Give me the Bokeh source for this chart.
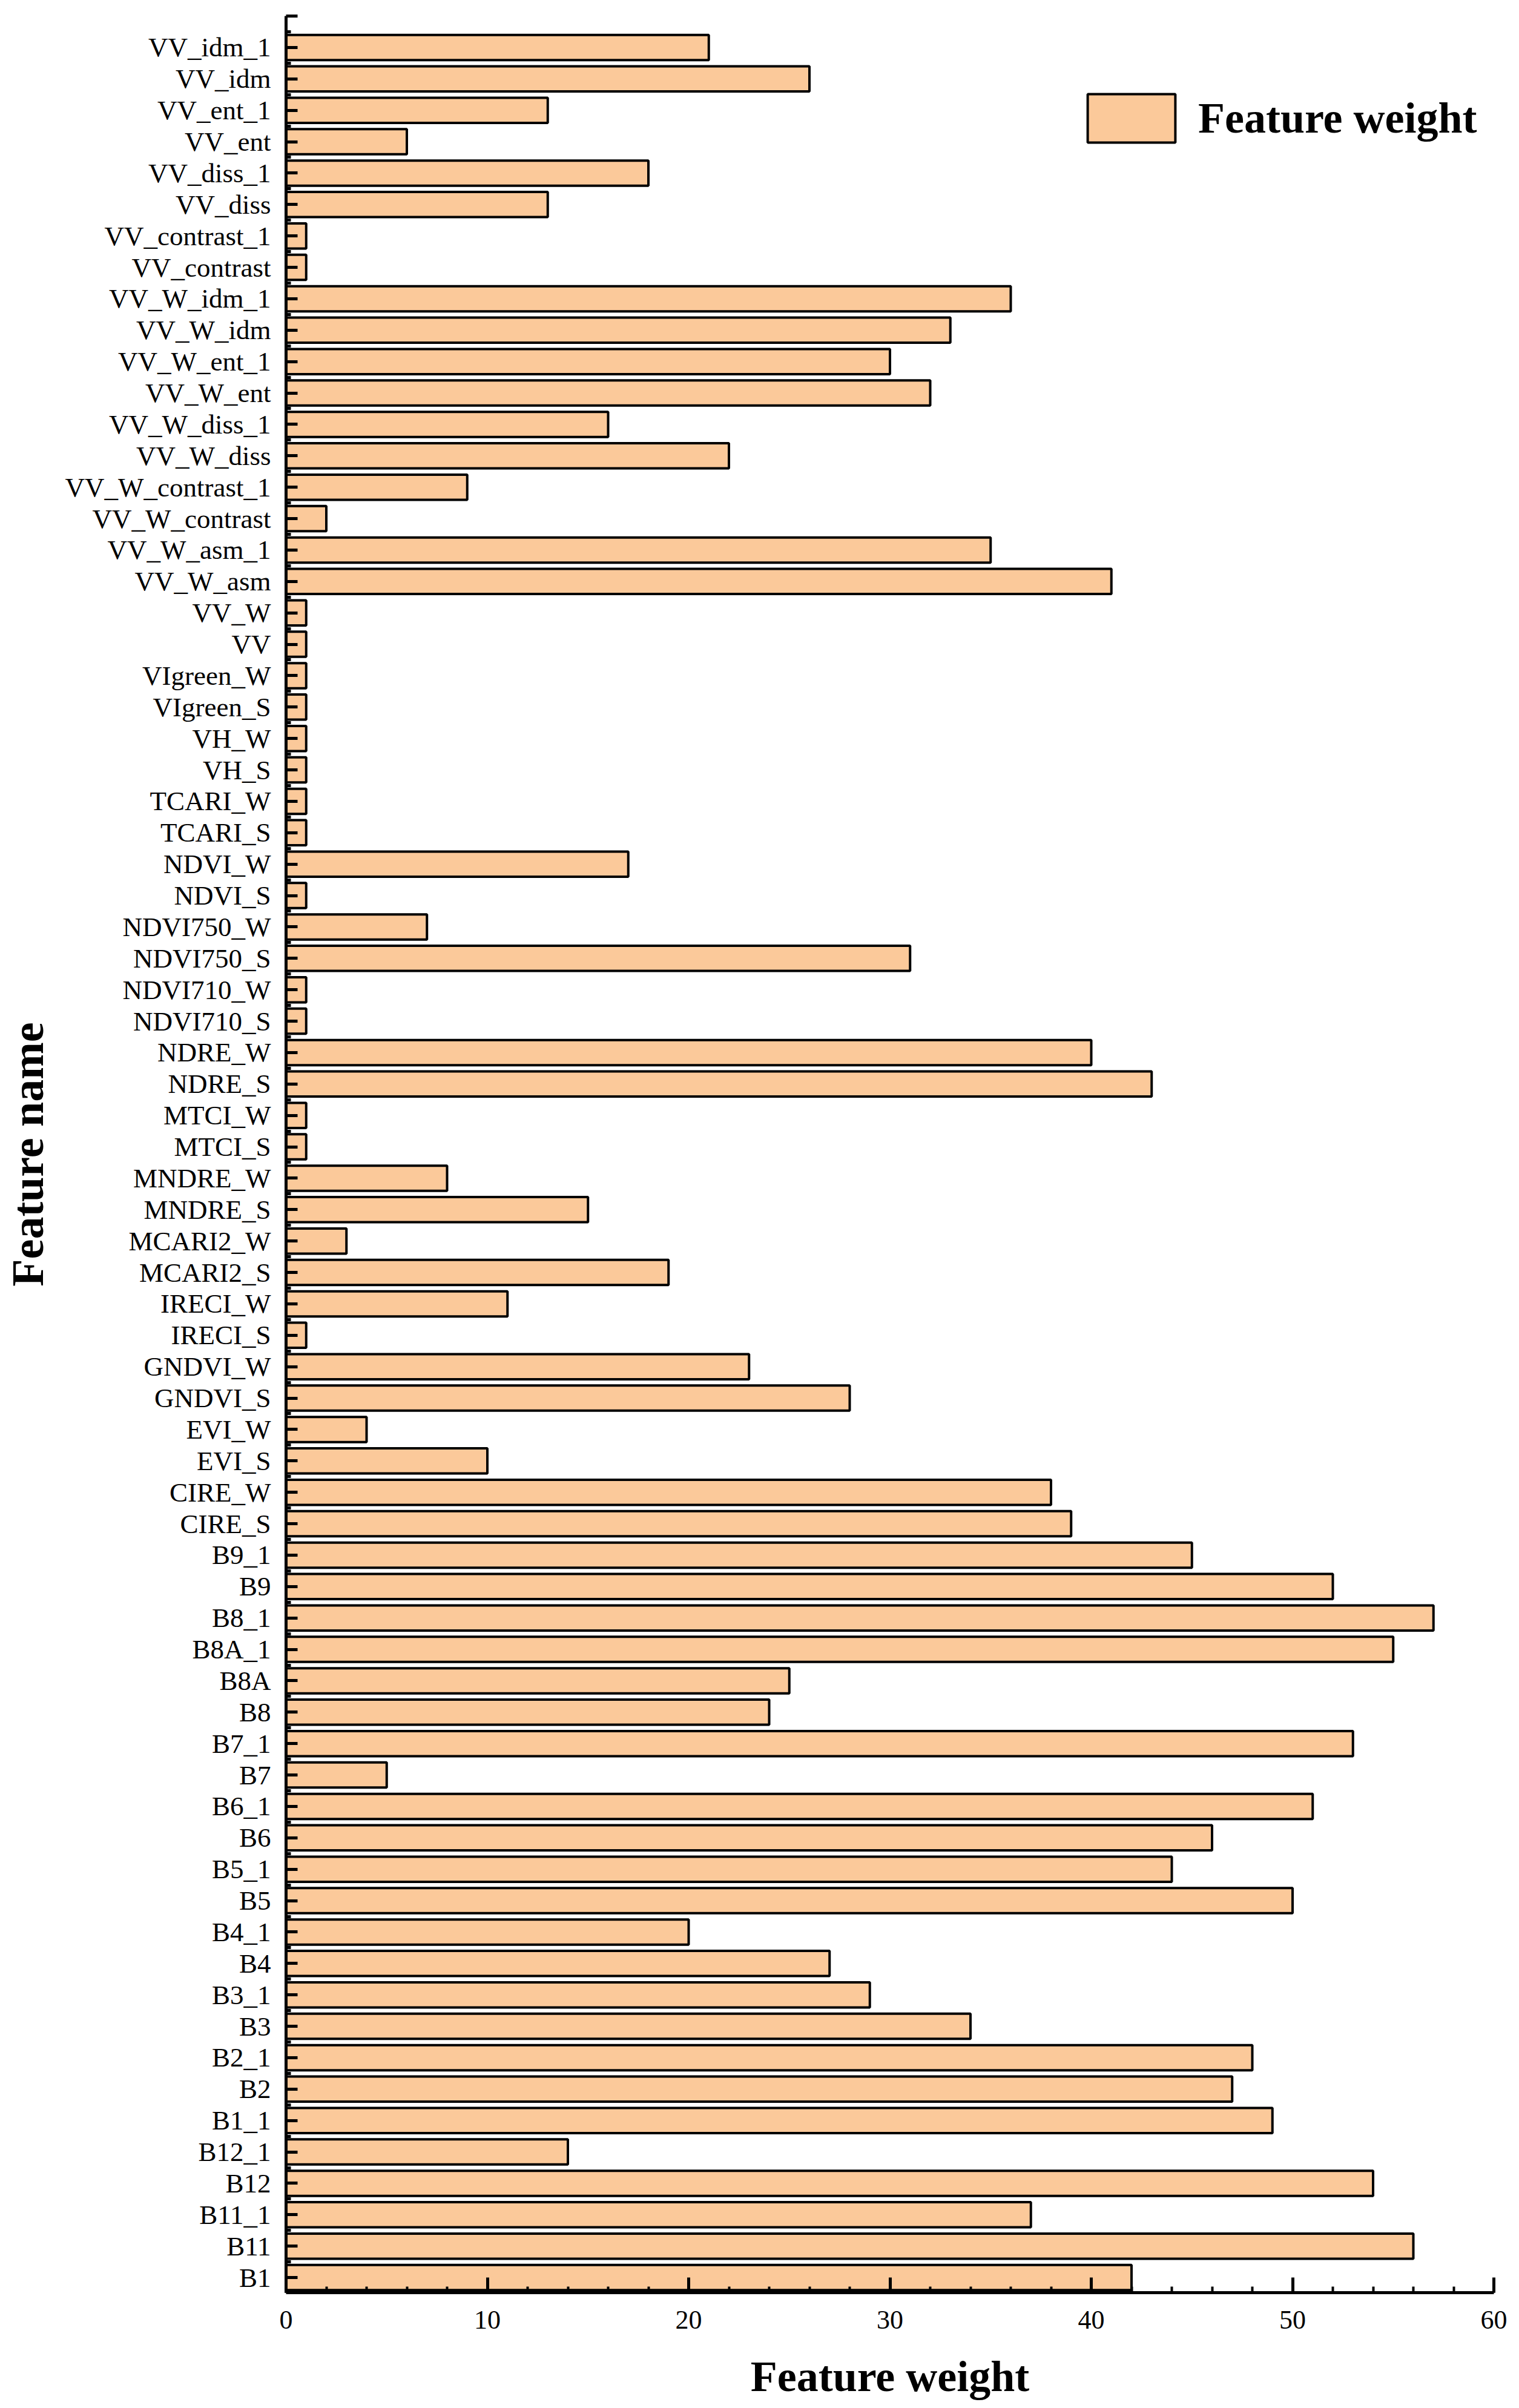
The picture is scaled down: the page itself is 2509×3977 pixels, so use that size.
from bokeh.plotting import figure
from bokeh.models import FixedTicker, ColumnDataSource, Range1d, Legend, LegendItem
from bokeh.embed import file_html
from bokeh.resources import INLINE

# Data, listed top-to-bottom as in the chart
feature_names = ["VV_idm_1", "VV_idm", "VV_ent_1", "VV_ent", "VV_diss_1", "VV_diss",
                 "VV_contrast_1", "VV_contrast", "VV_W_idm_1", "VV_W_idm", "VV_W_ent_1",
                 "VV_W_ent", "VV_W_diss_1", "VV_W_diss", "VV_W_contrast_1", "VV_W_contrast",
                 "VV_W_asm_1", "VV_W_asm", "VV_W", "VV", "VIgreen_W", "VIgreen_S", "VH_W",
                 "VH_S", "TCARI_W", "TCARI_S", "NDVI_W", "NDVI_S", "NDVI750_W", "NDVI750_S",
                 "NDVI710_W", "NDVI710_S", "NDRE_W", "NDRE_S", "MTCI_W", "MTCI_S", "MNDRE_W",
                 "MNDRE_S", "MCARI2_W", "MCARI2_S", "IRECI_W", "IRECI_S", "GNDVI_W", "GNDVI_S",
                 "EVI_W", "EVI_S", "CIRE_W", "CIRE_S", "B9_1", "B9", "B8_1", "B8A_1", "B8A",
                 "B8", "B7_1", "B7", "B6_1", "B6", "B5_1", "B5", "B4_1", "B4", "B3_1", "B3",
                 "B2_1", "B2", "B1_1", "B12_1", "B12", "B11_1", "B11", "B1"]
feature_weights = [21, 26, 13, 6, 18, 13, 1, 1, 36, 33, 30, 32, 16, 22, 9, 2, 35, 41,
                   1, 1, 1, 1, 1, 1, 1, 1, 17, 1, 7, 31, 1, 1, 40, 43, 1, 1, 8, 15, 3,
                   19, 11, 1, 23, 28, 4, 10, 38, 39, 45, 52, 57, 55, 25, 24, 53, 5, 51,
                   46, 44, 50, 20, 27, 29, 34, 48, 47, 49, 14, 54, 37, 56, 42]
x_ticks = [0, 10, 20, 30, 40, 50, 60]

n = len(feature_names)
positions = [n - i for i in range(n)]  # top item highest

source = ColumnDataSource(dict(y=positions, w=feature_weights, name=feature_names))

FONT = "Liberation Serif"

p = figure(width=2509, height=3977, output_backend="svg", toolbar_location=None,
           x_range=Range1d(0, 60), y_range=Range1d(0.52, n + 1),
           min_border_left=472, min_border_right=42, min_border_top=26, min_border_bottom=191)
p.outline_line_color = None
p.grid.visible = False
p.background_fill_color = "white"
p.border_fill_color = "white"

r = p.hbar(y="y", right="w", left=0, height=0.8, source=source,
           fill_color="#FBC99A", line_color="black", line_width=4)

# Y axis
ya = p.yaxis[0]
ya.ticker = FixedTicker(ticks=positions + [n + 1],
                        minor_ticks=[k + 0.5 for k in range(0, n + 1)])
ya.major_label_overrides = {pos: nm for pos, nm in zip(positions, feature_names)}
ya.major_label_overrides[n + 1] = ""
ya.axis_line_width = 5
ya.major_tick_line_width = 5
ya.minor_tick_line_width = 5
ya.major_tick_in = 19
ya.major_tick_out = 0
ya.minor_tick_in = 8
ya.minor_tick_out = 0
ya.major_label_text_font = FONT
ya.major_label_text_font_size = "45px"
ya.major_label_text_color = "black"
ya.major_label_standoff = 25
ya.axis_label = "Feature name"
ya.axis_label_text_font = FONT
ya.axis_label_text_font_style = "bold"
ya.axis_label_text_font_size = "74px"
ya.axis_label_standoff = 18
ya.axis_label_text_color = "black"

# X axis
xa = p.xaxis[0]
xa.ticker = FixedTicker(ticks=x_ticks, minor_ticks=list(range(0, 61, 2)))
xa.axis_line_width = 5
xa.major_tick_line_width = 5
xa.minor_tick_line_width = 4
xa.major_tick_in = 25
xa.major_tick_out = 0
xa.minor_tick_in = 10
xa.minor_tick_out = 0
xa.major_label_text_font = FONT
xa.major_label_text_font_size = "44px"
xa.major_label_text_color = "black"
xa.major_label_standoff = 30
xa.axis_label = "Feature weight"
xa.axis_label_text_font = FONT
xa.axis_label_text_font_style = "bold"
xa.axis_label_text_font_size = "72px"
xa.axis_label_standoff = 36
xa.axis_label_text_color = "black"

legend = Legend(items=[LegendItem(label="Feature weight", renderers=[r])],
                location=(1306, 3541))
legend.glyph_width = 181
legend.glyph_height = 100
legend.label_standoff = 20
legend.padding = 0
legend.margin = 0
legend.spacing = 0
legend.border_line_color = None
legend.background_fill_alpha = 0
legend.label_text_font = FONT
legend.label_text_font_style = "bold"
legend.label_text_font_size = "72px"
legend.label_text_color = "black"
p.add_layout(legend, "center")

open("out.html", "w").write(file_html(p, INLINE))
